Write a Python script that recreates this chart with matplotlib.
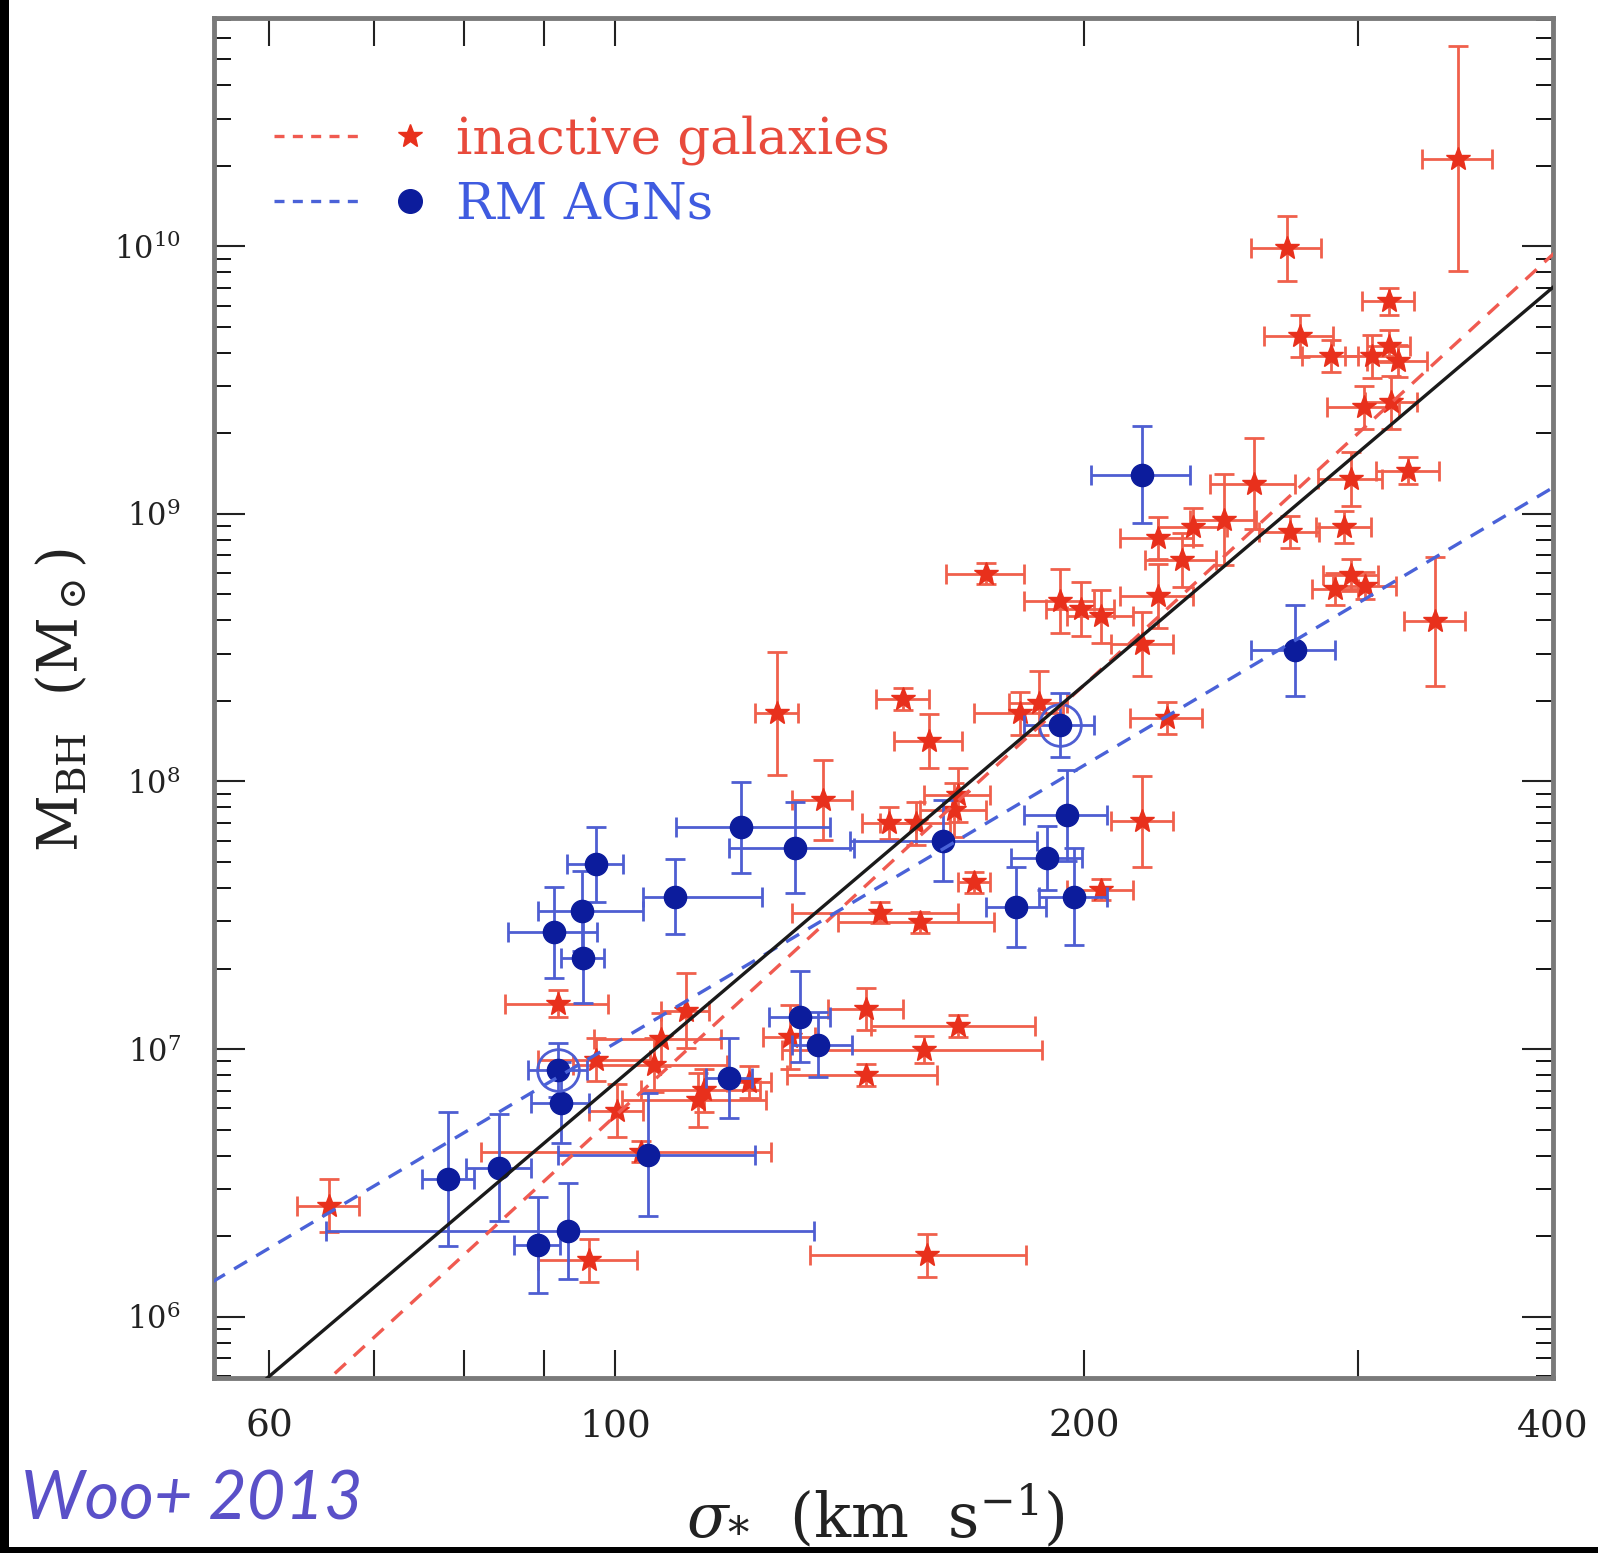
import matplotlib
matplotlib.use('Agg')
import matplotlib.pyplot as plt
import numpy as np
from matplotlib.lines import Line2D
from matplotlib.legend_handler import HandlerTuple
from matplotlib.patches import Rectangle
from matplotlib.ticker import LogLocator, NullFormatter, NullLocator

plt.rcParams['font.family'] = ['DejaVu Serif']
plt.rcParams['mathtext.fontset'] = 'dejavuserif'

# inactive galaxies: sigma (km/s), sigma error, log M_BH, error in dex
sig_q = [347.6, 270, 313.8, 275, 288, 306, 314, 318, 302.6, 315,
         296.6, 323, 257, 271, 293.6, 296.6, 303, 290, 336, 223,
         235, 246, 231, 223, 218, 193, 199, 205, 173, 226,
         218, 153, 159, 182, 187, 127, 136, 166, 165, 150,
         156, 170, 148, 157, 205, 92, 97.3, 111, 107, 106,
         114, 100.3, 113, 129.5, 145, 166, 158, 145, 122, 65.5,
         96.3, 158.5, 104]
sig_q_err = [18, 14, 12, 14, 12, 12, 10, 14, 16, 12,
             14, 15, 16, 12, 12, 12, 14, 10, 15, 12,
             12, 12, 12, 12, 10, 10, 10, 10, 10, 12,
             10, 6, 8, 12, 8, 4, 6, 8, 8, 6,
             8, 4, 18, 18, 10, 7, 8, 4, 10, 12,
             10, 4, 12, 5, 8, 20, 30, 16, 4, 3,
             7, 25, 22]
logm_q = [10.328, 9.992, 9.794, 9.665, 9.589, 9.589, 9.627, 9.57, 9.398, 9.417,
          9.131, 9.162, 9.112, 8.933, 8.952, 8.77, 8.731, 8.72, 8.598, 8.91,
          8.952, 8.979, 8.827, 8.693, 8.514, 8.674, 8.644, 8.617, 8.777, 8.236,
          7.851, 8.309, 8.152, 8.255, 8.293, 8.255, 7.931, 7.95, 7.893, 7.844,
          7.844, 7.623, 7.51, 7.474, 7.596, 7.17, 6.96, 7.143, 7.036, 6.94,
          6.846, 6.77, 6.81, 7.044, 7.15, 7.086, 6.998, 6.903, 6.876, 6.415,
          6.21, 6.229, 6.617]
logm_q_err = [0.42, 0.12, 0.05, 0.08, 0.06, 0.08, 0.06, 0.06, 0.08, 0.10,
              0.10, 0.05, 0.17, 0.06, 0.06, 0.06, 0.05, 0.06, 0.24, 0.08,
              0.07, 0.17, 0.10, 0.12, 0.12, 0.12, 0.10, 0.10, 0.04, 0.06,
              0.17, 0.04, 0.10, 0.08, 0.12, 0.23, 0.15, 0.10, 0.10, 0.06,
              0.08, 0.04, 0.04, 0.04, 0.04, 0.05, 0.08, 0.14, 0.10, 0.10,
              0.08, 0.10, 0.10, 0.12, 0.08, 0.04, 0.05, 0.04, 0.06, 0.10,
              0.08, 0.08, 0.04]

# RM AGNs
sig_agn = [218, 273, 193, 195, 189.5, 181, 197, 162.5, 130.4, 120.4,
           109.3, 97.2, 95.2, 91.4, 95.4, 131.5, 135, 118.4, 92, 92.3,
           105, 78.2, 84.3, 89.2, 93.3]
sig_agn_lo = [16, 17, 10, 12, 10, 8, 10, 21, 12, 11,
              5, 4, 6, 6, 3, 6, 5, 4, 4, 4,
              13, 3, 4, 3, 28]
sig_agn_hi = [16, 17, 10, 12, 10, 8, 10, 24, 12, 17,
              15, 4, 9, 6, 3, 6, 7, 4, 4, 4,
              18, 3, 4, 3, 41]
logm_agn = [9.147, 8.49, 8.21, 7.874, 7.714, 7.531, 7.57, 7.779, 7.752, 7.829,
            7.57, 7.69, 7.516, 7.436, 7.341, 7.12, 7.017, 6.891, 6.922, 6.80,
            6.606, 6.514, 6.556, 6.267, 6.32]
logm_agn_err = [0.18, 0.17, 0.12, 0.17, 0.12, 0.15, 0.18, 0.15, 0.17, 0.17,
                0.14, 0.14, 0.15, 0.17, 0.17, 0.17, 0.12, 0.15, 0.10, 0.15,
                0.23, 0.25, 0.20, 0.18, 0.18]
ringed = [2, 18]

# fits: log M = a + b log(sigma / 200)
fit_all = (8.36, 4.94)
fit_q = (8.36, 5.35)
fit_agn = (8.06, 3.45)

red = '#e8301c'
red_err = '#f0604c'
blue = '#0c1c9c'
blue_err = '#4e5ed2'

fig = plt.figure(figsize=(15.98, 15.53), dpi=100)
ax = fig.add_axes([0.1339, 0.1127, 0.838, 0.8757])

def mass_err(logm, err):
    logm = np.array(logm)
    err = np.array(err)
    m = 10 ** logm
    return m, [m - 10 ** (logm - err), 10 ** (logm + err) - m]

mq, mq_err = mass_err(logm_q, logm_q_err)
ax.errorbar(sig_q, mq, xerr=sig_q_err, yerr=mq_err, fmt='none', ecolor=red_err,
            elinewidth=2, capsize=7, capthick=2, zorder=2)
ax.plot(sig_q, mq, ls='none', marker='*', ms=18, color=red, mec=red, zorder=3)

ma, ma_err = mass_err(logm_agn, logm_agn_err)
ax.errorbar(sig_agn, ma, xerr=[sig_agn_lo, sig_agn_hi], yerr=ma_err, fmt='none',
            ecolor=blue_err, elinewidth=2, capsize=7, capthick=2, zorder=4)
ax.plot(sig_agn, ma, ls='none', marker='o', ms=16, color=blue, mec=blue, zorder=5)
ax.plot(np.array(sig_agn)[ringed], ma[ringed], ls='none', marker='o', ms=30,
        mfc='none', mec=blue_err, mew=2, zorder=5)

sig_line = np.array([50.0, 420.0])
for (a, b), col, ls in [(fit_q, '#f05a50', '--'), (fit_agn, '#4a62d8', '--'), (fit_all, '#1a1a1a', '-')]:
    ln, = ax.plot(sig_line, 10 ** (a + b * np.log10(sig_line / 200.0)), color=col, lw=2.4, ls=ls, zorder=6)
    if ls == '--':
        ln.set_dashes((4.5, 3.2))

ax.set_xscale('log')
ax.set_yscale('log')
ax.set_xlim(55.3, 400)
ax.set_ylim(10 ** 5.771, 10 ** 10.853)

ax.set_xticks([60, 70, 80, 90, 100, 200, 300, 400])
ax.set_xticklabels(['60', '', '', '', '100', '200', '', '400'])
ax.xaxis.set_minor_locator(NullLocator())
ax.set_yticks([1e6, 1e7, 1e8, 1e9, 1e10])
ax.set_yticklabels([r'10$^{6}$', r'10$^{7}$', r'10$^{8}$', r'10$^{9}$', r'10$^{10}$'])
ax.yaxis.set_minor_locator(LogLocator(base=10, subs=np.arange(2, 10)))
ax.yaxis.set_minor_formatter(NullFormatter())

ax.tick_params(axis='x', which='major', direction='in', length=20, width=1.5,
               top=True, pad=22, labelsize=27, colors='#222222')
ax.tick_params(axis='y', which='major', direction='in', length=22, width=1.5,
               right=True, pad=24, labelsize=22, colors='#222222')
ax.tick_params(axis='y', which='minor', direction='in', length=12, width=1.3, right=True)
for s in ax.spines.values():
    s.set_linewidth(3.5)
    s.set_color('#7a7a7a')

h_q = (Line2D([], [], color='#f05a50', lw=2.4, dashes=(3, 2.5)),
       Line2D([], [], color=red, marker='*', ls='none', ms=18))
h_agn = (Line2D([], [], color='#4a62d8', lw=2.4, dashes=(3, 2.5)),
         Line2D([], [], color=blue, marker='o', ls='none', ms=17))
ax.legend([h_q, h_agn], ['inactive galaxies', 'RM AGNs'],
          handler_map={tuple: HandlerTuple(ndivide=None, pad=0.1)},
          loc='upper left', bbox_to_anchor=(0.037, 0.936), borderaxespad=0, borderpad=0.2,
          frameon=False, fontsize=37, labelcolor=['#e84a3c', '#3f5be0'],
          handlelength=3.5, handletextpad=0.05, labelspacing=0.3)

fig.text(0.0394, 0.549, r'M$_{\rm BH}$  (M$_\odot$)', rotation=90, ha='center', va='center',
         fontsize=40, color='#222222')
fig.text(0.548, 0.0103, r'$\sigma_{*}$  (km  s$^{-1}$)', ha='center', va='baseline',
         fontsize=44, color='#222222')
fig.text(0.013, 0.0213, 'Woo+ 2013', family='Lato', style='italic', fontsize=48,
         color='#5a50c8', ha='left', va='baseline')

fig.add_artist(Rectangle((0, 0), 9 / 1598, 1, transform=fig.transFigure, color='black', lw=0))
fig.add_artist(Rectangle((0, 0), 1, 6 / 1553, transform=fig.transFigure, color='black', lw=0))

fig.savefig('out.png', dpi=100)
